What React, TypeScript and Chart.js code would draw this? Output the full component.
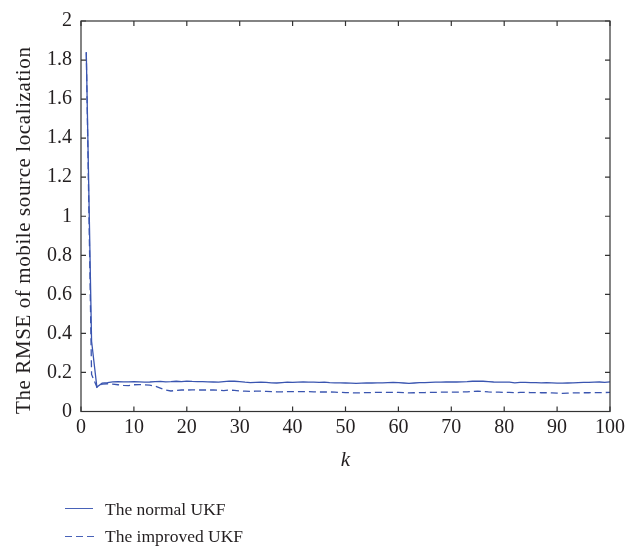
import React, { useEffect, useRef } from "react";
import { Chart, registerables } from "chart.js";

Chart.register(...registerables);

// ---- data ----
const kValues: number[] = Array.from({ length: 100 }, (_, i) => i + 1);

const normalUKF: number[] = [
  1.84, 0.36, 0.125, 0.145, 0.148, 0.152, 0.153, 0.152, 0.152, 0.153,
  0.152, 0.150, 0.151, 0.153, 0.154, 0.152, 0.153, 0.155, 0.153, 0.156,
  0.154, 0.153, 0.153, 0.152, 0.151, 0.150, 0.153, 0.156, 0.155, 0.153,
  0.150, 0.148, 0.149, 0.150, 0.149, 0.147, 0.146, 0.148, 0.150, 0.149,
  0.150, 0.151, 0.150, 0.150, 0.149, 0.150, 0.148, 0.147, 0.147, 0.146,
  0.145, 0.144, 0.145, 0.146, 0.146, 0.147, 0.147, 0.148, 0.149, 0.148,
  0.146, 0.144, 0.146, 0.148, 0.148, 0.149, 0.150, 0.150, 0.151, 0.151,
  0.151, 0.152, 0.153, 0.155, 0.156, 0.155, 0.153, 0.151, 0.150, 0.150,
  0.150, 0.147, 0.149, 0.149, 0.148, 0.148, 0.147, 0.148, 0.147, 0.145,
  0.145, 0.146, 0.147, 0.148, 0.149, 0.149, 0.150, 0.151, 0.149, 0.152,
];

const improvedUKF: number[] = [
  1.84, 0.19, 0.125, 0.140, 0.142, 0.140, 0.137, 0.134, 0.133, 0.137,
  0.138, 0.136, 0.135, 0.130, 0.120, 0.110, 0.105, 0.108, 0.110, 0.110,
  0.111, 0.110, 0.110, 0.110, 0.110, 0.109, 0.107, 0.110, 0.108, 0.105,
  0.104, 0.103, 0.104, 0.104, 0.103, 0.102, 0.101, 0.101, 0.102, 0.102,
  0.102, 0.102, 0.102, 0.101, 0.100, 0.100, 0.100, 0.099, 0.098, 0.097,
  0.096, 0.095, 0.096, 0.097, 0.097, 0.098, 0.098, 0.098, 0.098, 0.098,
  0.097, 0.095, 0.096, 0.097, 0.097, 0.098, 0.098, 0.099, 0.099, 0.099,
  0.099, 0.100, 0.101, 0.103, 0.104, 0.102, 0.100, 0.099, 0.099, 0.098,
  0.098, 0.096, 0.098, 0.098, 0.097, 0.097, 0.096, 0.096, 0.095, 0.094,
  0.093, 0.094, 0.095, 0.095, 0.096, 0.096, 0.097, 0.097, 0.097, 0.098,
];

const xTicks: number[] = [0, 10, 20, 30, 40, 50, 60, 70, 80, 90, 100];
const yTicks: number[] = [0, 0.2, 0.4, 0.6, 0.8, 1, 1.2, 1.4, 1.6, 1.8, 2];

const seriesNames: string[] = ["The normal UKF", "The improved UKF"];
const yTitle = "The RMSE of mobile source localization";
const xTitle = "k";

// ---- styles ----
const LINE_COLOR = "#3a55b0";
const LEGEND_COLOR = "#4862b8";
const AXIS_COLOR = "#333333";
const TEXT_COLOR = "#231f20";
const FONT = "'Liberation Serif', 'DejaVu Serif', serif";

const framePlugin = {
  id: "frameTicks",
  afterDatasetsDraw(chart: any) {
    const { ctx, chartArea, scales } = chart;
    const { left, right, top, bottom } = chartArea;
    const xs = scales.x;
    const ys = scales.y;
    const L = 5;
    ctx.save();
    ctx.strokeStyle = AXIS_COLOR;
    ctx.lineWidth = 1.2;
    ctx.strokeRect(left, top, right - left, bottom - top);
    ctx.beginPath();
    xTicks.forEach((v) => {
      const px = xs.getPixelForValue(v);
      ctx.moveTo(px, bottom);
      ctx.lineTo(px, bottom - L);
      ctx.moveTo(px, top);
      ctx.lineTo(px, top + L);
    });
    yTicks.forEach((v) => {
      const py = ys.getPixelForValue(v);
      ctx.moveTo(left, py);
      ctx.lineTo(left + L, py);
      ctx.moveTo(right, py);
      ctx.lineTo(right - L, py);
    });
    ctx.stroke();
    ctx.restore();
  },
};

// y-axis title drawn slightly below the plot centre, as in the reference
const yTitlePlugin = {
  id: "yTitle",
  afterDraw(chart: any) {
    const { ctx, chartArea } = chart;
    const cy = (chartArea.top + chartArea.bottom) / 2 + 14;
    ctx.save();
    ctx.translate(30, cy);
    ctx.rotate(-Math.PI / 2);
    ctx.font = `21px ${FONT}`;
    (ctx as any).letterSpacing = "0.6px";
    ctx.fillStyle = TEXT_COLOR;
    ctx.textAlign = "center";
    ctx.textBaseline = "alphabetic";
    ctx.fillText(yTitle, 0, 0);
    ctx.restore();
  },
};

export default function App() {
  const canvasRef = useRef<HTMLCanvasElement | null>(null);

  useEffect(() => {
    const canvas = canvasRef.current;
    if (!canvas) return;
    const chart = new Chart(canvas, {
      type: "line",
      data: {
        datasets: [
          {
            label: seriesNames[0],
            data: kValues.map((k, i) => ({ x: k, y: normalUKF[i] })),
            borderColor: LINE_COLOR,
            borderWidth: 1.3,
            pointRadius: 0,
            tension: 0,
            fill: false,
          },
          {
            label: seriesNames[1],
            data: kValues.map((k, i) => ({ x: k, y: improvedUKF[i] })),
            borderColor: LINE_COLOR,
            borderWidth: 1.3,
            borderDash: [7, 4],
            pointRadius: 0,
            tension: 0,
            fill: false,
          },
        ],
      },
      options: {
        responsive: false,
        animation: false,
        devicePixelRatio: 1,
        layout: { padding: { left: 0, right: 33, top: 12.5, bottom: 0 } },
        plugins: {
          legend: { display: false },
          tooltip: { enabled: false },
        },
        scales: {
          x: {
            type: "linear",
            min: 0,
            max: 100,
            afterBuildTicks: (s: any) => {
              s.ticks = xTicks.map((v) => ({ value: v }));
            },
            ticks: {
              color: TEXT_COLOR,
              font: { family: FONT, size: 20 },
              padding: 4,
              maxRotation: 0,
              autoSkip: false,
              callback: (v: any) => String(v),
            },
            grid: { display: false, drawTicks: false },
            border: { display: false },
            title: {
              display: true,
              text: xTitle,
              color: TEXT_COLOR,
              font: { family: FONT, size: 21, style: "italic" },
              padding: { top: 0, bottom: 77 },
            },
            afterFit: (s: any) => {
              s.height = 138.5;
            },
          },
          y: {
            type: "linear",
            min: 0,
            max: 2,
            afterBuildTicks: (s: any) => {
              s.ticks = yTicks.map((v) => ({ value: v }));
            },
            ticks: {
              color: TEXT_COLOR,
              font: { family: FONT, size: 20 },
              padding: 9,
              autoSkip: false,
              callback: (v: any) => String(Number(Number(v).toFixed(1))),
            },
            grid: { display: false, drawTicks: false },
            border: { display: false },
            title: { display: false, text: yTitle },
            afterFit: (s: any) => {
              s.width = 81;
            },
          },
        },
      },
      plugins: [framePlugin, yTitlePlugin],
    });
    return () => chart.destroy();
  }, []);

  const legendText: React.CSSProperties = {
    position: "absolute",
    left: 105,
    fontFamily: FONT,
    fontSize: 17.5,
    color: TEXT_COLOR,
    lineHeight: "20px",
    whiteSpace: "nowrap",
  };

  return (
    <div style={{ position: "absolute", left: 0, top: 0, width: 643, height: 550, background: "#ffffff" }}>
      <canvas ref={canvasRef} width={643} height={550} style={{ display: "block", width: 643, height: 550 }} />
      <div style={{ position: "absolute", left: 65, top: 508, width: 28, height: 1.3, background: LEGEND_COLOR }} />
      <div style={{ ...legendText, top: 499 }}>{seriesNames[0]}</div>
      <div
        style={{
          position: "absolute",
          left: 65,
          top: 536,
          width: 29,
          height: 1.3,
          backgroundImage: `repeating-linear-gradient(to right, ${LEGEND_COLOR} 0px, ${LEGEND_COLOR} 7px, transparent 7px, transparent 11px)`,
        }}
      />
      <div style={{ ...legendText, top: 526 }}>{seriesNames[1]}</div>
    </div>
  );
}
